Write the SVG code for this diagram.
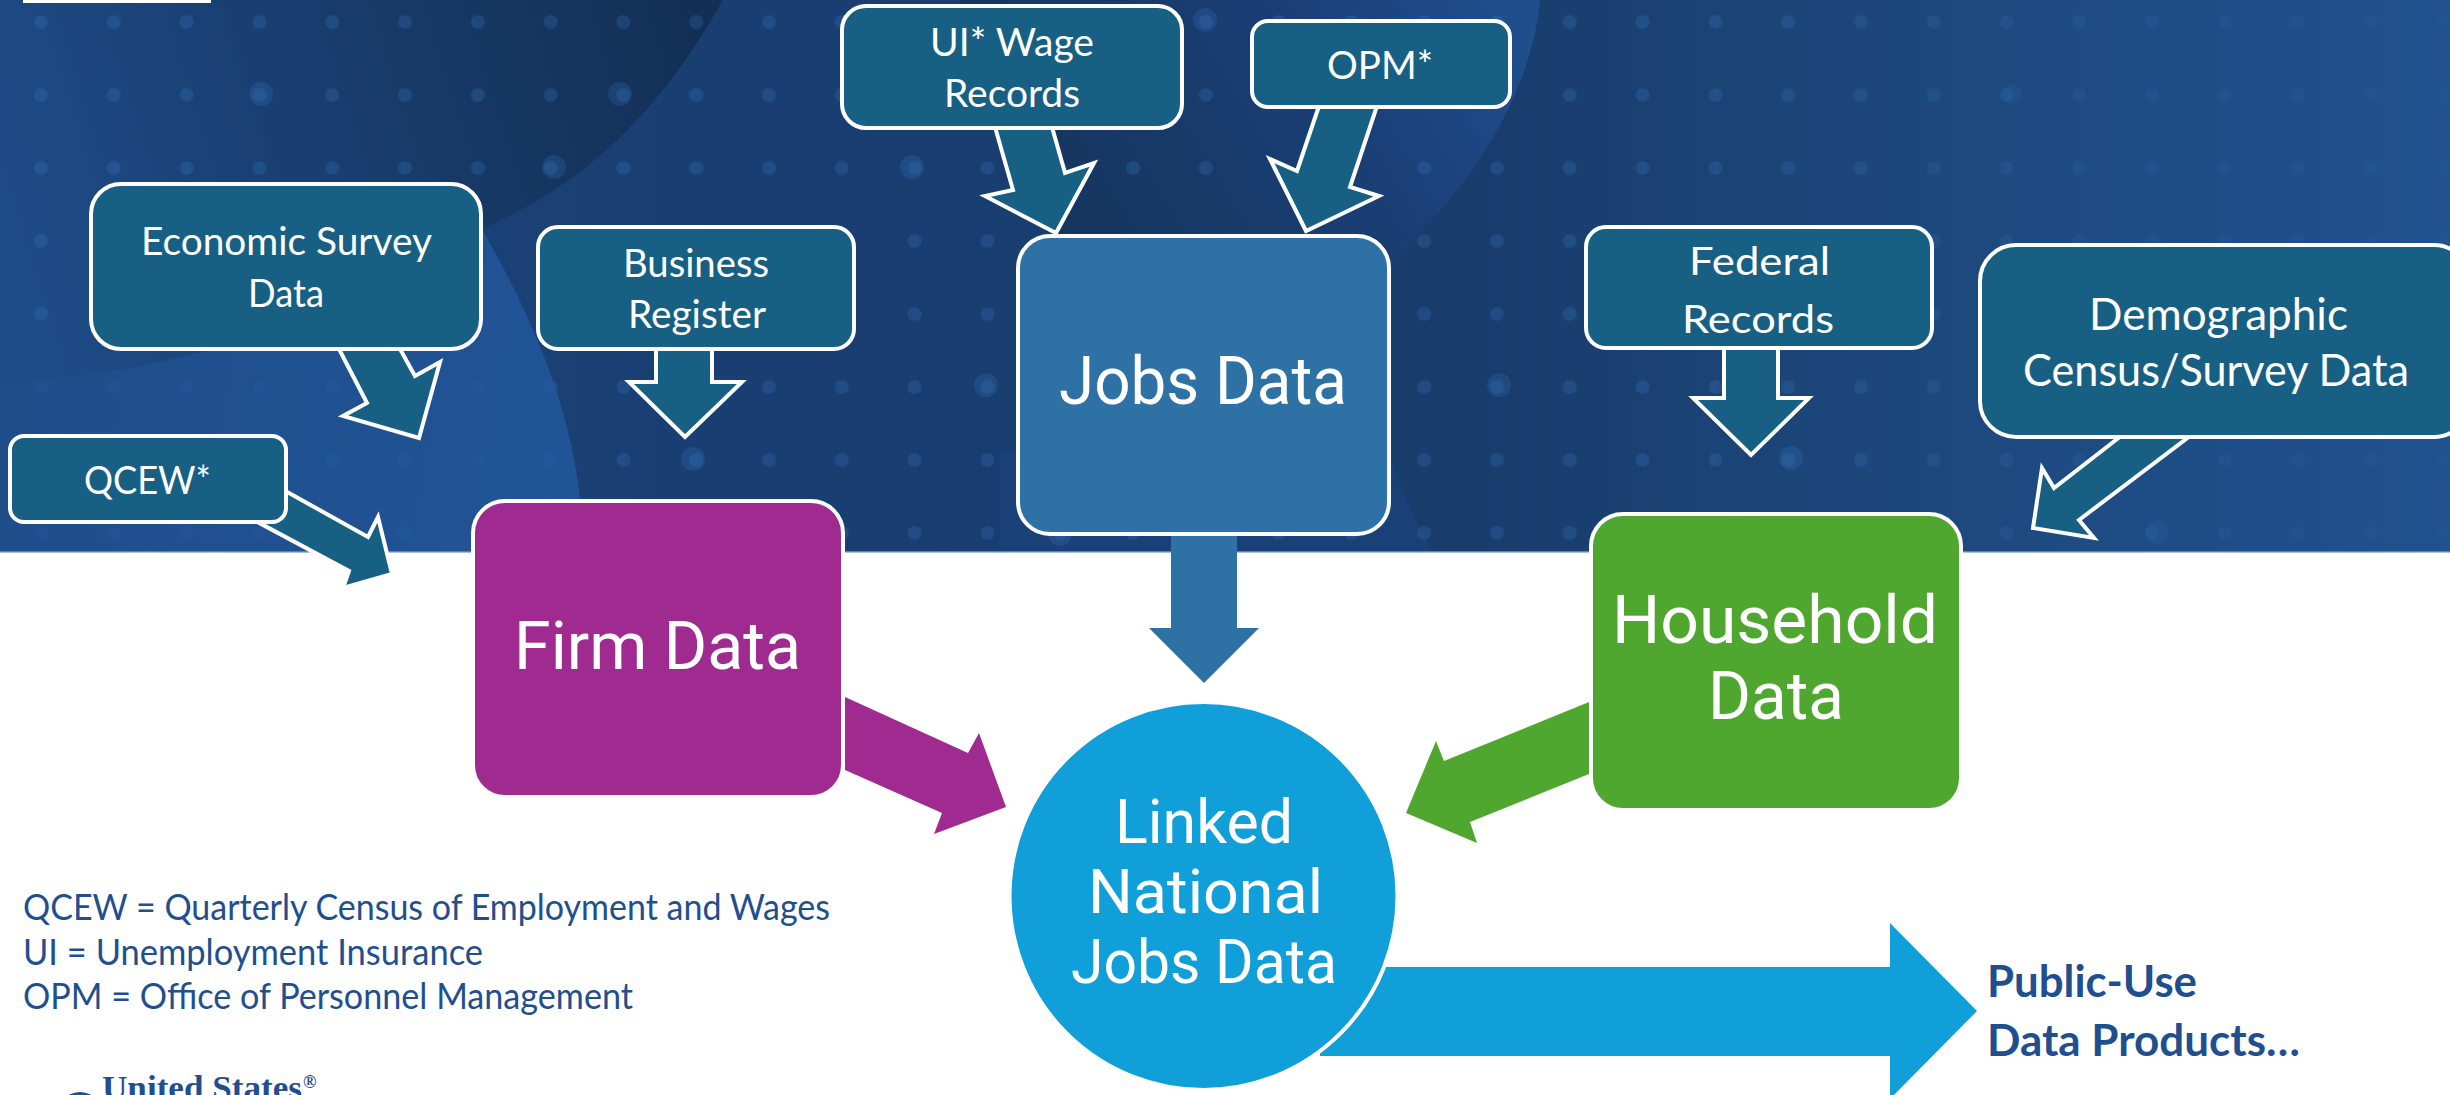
<svg xmlns="http://www.w3.org/2000/svg" width="2450" height="1095" viewBox="0 0 2450 1095">
<style>
.src{fill:#176083;stroke:#fff;stroke-width:4}
.arr{fill:#176083;stroke:#fff;stroke-width:4;stroke-linejoin:miter}
.main{stroke:#fff;stroke-width:4}
text{font-family:"Lato","Open Sans","Liberation Sans",sans-serif;fill:#fff}
.s{font-size:39px}
.d{font-size:44px}
.b{font-size:67px;font-family:Roboto,"Open Sans",sans-serif}
.c{font-size:62px;font-family:Roboto,"Open Sans",sans-serif}
.leg{font-size:36px;fill:#1f4f8f}
.pub{font-size:44px;font-weight:700;fill:#1f4f8f}
</style>
<defs>
<linearGradient id="base" gradientUnits="userSpaceOnUse" x1="0" y1="0" x2="2450" y2="0">
<stop offset="0" stop-color="#1b4479"/><stop offset=".3" stop-color="#193e72"/><stop offset=".6" stop-color="#183c6c"/><stop offset=".75" stop-color="#1c4679"/><stop offset="1" stop-color="#20528f"/>
</linearGradient>
<linearGradient id="dark" gradientUnits="userSpaceOnUse" x1="700" y1="40" x2="0" y2="260">
<stop offset="0" stop-color="#132f55"/><stop offset=".55" stop-color="#193e70"/><stop offset="1" stop-color="#1e4c88"/>
</linearGradient>
<linearGradient id="blob" gradientUnits="userSpaceOnUse" x1="0" y1="380" x2="580" y2="480">
<stop offset="0" stop-color="#1e4d8a"/><stop offset="1" stop-color="#215497"/>
</linearGradient>
<linearGradient id="lobe" gradientUnits="userSpaceOnUse" x1="1100" y1="240" x2="1500" y2="0">
<stop offset="0" stop-color="#163660"/><stop offset=".6" stop-color="#1a3f76"/><stop offset="1" stop-color="#1f4e8d"/>
</linearGradient>
<linearGradient id="fade" gradientUnits="userSpaceOnUse" x1="1700" y1="0" x2="2450" y2="0">
<stop offset="0" stop-color="#fff"/><stop offset="1" stop-color="#333"/>
</linearGradient>
<pattern id="dots" patternUnits="userSpaceOnUse" x="4.6" y="-14.5" width="72.8" height="73">
<circle cx="36.4" cy="36.5" r="7" fill="#3d7cc8" fill-opacity=".25"/>
</pattern>
<mask id="dotmask" maskUnits="userSpaceOnUse" x="0" y="0" width="2450" height="552">
<rect width="2450" height="552" fill="url(#fade)"/>
<path d="M0 381C100 380 220 365 330 320C400 290 450 265 482 229C545 340 583 440 583 552H0Z" fill="#555"/>
</mask>
</defs>
<g id="background">
<rect width="2450" height="552" fill="url(#base)"/>
<path d="M0 0H723C650 130 570 190 482 229C400 285 220 375 0 381Z" fill="url(#dark)"/>
<path d="M0 381C220 375 400 285 482 229C545 340 583 440 583 552H0Z" fill="url(#blob)"/>
<path d="M960 0H1540C1530 110 1450 210 1389 262L1389 236H1060C1030 200 1010 160 995 125C985 90 975 50 960 0Z" fill="url(#lobe)"/>
<path d="M1389 450C1400 490 1415 520 1432 552H1000V450Z" fill="#1a4177"/>
<rect width="2450" height="552" fill="url(#dots)" mask="url(#dotmask)"/>
<g fill="#3d7cc8" fill-opacity=".22">
<circle cx="261" cy="94" r="12"/><circle cx="620" cy="94" r="12"/><circle cx="554" cy="167" r="12"/><circle cx="693" cy="459" r="12"/>
<circle cx="912" cy="167" r="12"/><circle cx="986" cy="385" r="12"/><circle cx="1499" cy="385" r="12"/><circle cx="1060" cy="534" r="12"/>
<circle cx="1205" cy="20" r="12"/><circle cx="1791" cy="458" r="12"/><circle cx="2157" cy="532" r="12" fill-opacity=".12"/><circle cx="2012" cy="94" r="10" fill-opacity=".12"/>
</g>
<rect x="0" y="551" width="2450" height="1.5" fill="#5d82b3"/>
<rect x="23" y="-10" width="188" height="13" fill="#fff"/>
</g>
<g id="connectors">
<polygon class="arr" points="339,349 367,403 343,416 419,438 440,362 415,376 400,349"/>
<polygon class="arr" points="656,349 656,382 629,382 685,437 742,382 712,382 712,349"/>
<polygon class="arr" points="280,488 368,537 378,517 392,574 343,588 349,571 250,518"/>
<polygon class="arr" points="995,127 1013,190 985,196 1056,233 1094,163 1065,173 1052,127"/>
<polygon class="arr" points="1319,106 1297,171 1270,159 1306,231 1379,196 1350,187 1377,106"/>
<polygon class="arr" points="1724,347 1724,398 1693,398 1751,455 1809,398 1778,398 1778,347"/>
<polygon class="arr" points="2121,436 2054,488 2042,468 2033,528 2094,538 2079,520 2190,436"/>
<polygon fill="#2e71a5" points="1171,534 1171,628 1149,628 1204,683 1259,628 1237,628 1237,534"/>
<polygon fill="#a02b90" points="845,697 968,753 979,733 1006,807 934,834 942,813 845,770"/>
<polygon fill="#50a72f" points="1589,702 1444,761 1436,741 1406,813 1477,843 1470,822 1589,774"/>
<polygon fill="#109fd8" points="1320,967 1890,967 1890,923 1977,1011 1890,1099 1890,1056 1320,1056"/>
</g>
<g id="economic-survey"><rect class="src" x="91" y="184" width="390" height="165" rx="30"/>
<text class="s" x="141" y="255" textLength="291" lengthAdjust="spacingAndGlyphs">Economic Survey</text>
<text class="s" x="248" y="307" textLength="76" lengthAdjust="spacingAndGlyphs">Data</text></g>
<g id="business-register"><rect class="src" x="538" y="227" width="316" height="122" rx="20"/>
<text class="s" x="623" y="277" textLength="146" lengthAdjust="spacingAndGlyphs">Business</text>
<text class="s" x="628" y="328" textLength="138" lengthAdjust="spacingAndGlyphs">Register</text></g>
<g id="qcew"><rect class="src" x="10" y="436" width="276" height="86" rx="14"/>
<text class="s" x="84" y="494" textLength="127" lengthAdjust="spacingAndGlyphs">QCEW*</text></g>
<g id="ui-wage"><rect class="src" x="842" y="6" width="340" height="122" rx="24"/>
<text class="s" x="930" y="56" textLength="164" lengthAdjust="spacingAndGlyphs">UI* Wage</text>
<text class="s" x="944" y="107" textLength="136" lengthAdjust="spacingAndGlyphs">Records</text></g>
<g id="opm"><rect class="src" x="1252" y="21" width="258" height="86" rx="16"/>
<text class="s" x="1327" y="79" textLength="106" lengthAdjust="spacingAndGlyphs">OPM*</text></g>
<g id="federal-records"><rect class="src" x="1586" y="227" width="346" height="121" rx="20"/>
<text class="s" x="1689" y="275" textLength="141" lengthAdjust="spacingAndGlyphs">Federal</text>
<text class="s" x="1682" y="333" textLength="152" lengthAdjust="spacingAndGlyphs">Records</text></g>
<g id="demographic"><rect class="src" x="1980" y="245" width="490" height="192" rx="36"/>
<text class="d" x="2089" y="330" textLength="259" lengthAdjust="spacingAndGlyphs">Demographic</text>
<text class="d" x="2023" y="386" textLength="386" lengthAdjust="spacingAndGlyphs">Census/Survey Data</text></g>
<g id="firm-data"><rect class="main" x="473" y="501" width="370" height="296" rx="32" fill="#a02b90"/>
<text class="b" x="514" y="669" textLength="287" lengthAdjust="spacingAndGlyphs">Firm Data</text></g>
<g id="jobs-data"><rect class="main" x="1018" y="236" width="371" height="298" rx="32" fill="#2e71a5"/>
<text class="b" x="1059" y="404" textLength="288" lengthAdjust="spacingAndGlyphs">Jobs Data</text></g>
<g id="household-data"><rect class="main" x="1591" y="514" width="370" height="296" rx="32" fill="#50a72f"/>
<text class="b" x="1612" y="643" textLength="326" lengthAdjust="spacingAndGlyphs">Household</text>
<text class="b" x="1708" y="719" textLength="136" lengthAdjust="spacingAndGlyphs">Data</text></g>
<g id="linked-national"><circle class="main" cx="1203.5" cy="896" r="194" fill="#109fd8"/>
<text class="c" x="1115" y="843" textLength="178" lengthAdjust="spacingAndGlyphs">Linked</text>
<text class="c" x="1088" y="913" textLength="235" lengthAdjust="spacingAndGlyphs">National</text>
<text class="c" x="1071" y="983" textLength="266" lengthAdjust="spacingAndGlyphs">Jobs Data</text></g>
<g id="public-use">
<text class="pub" x="1987" y="997" textLength="210" lengthAdjust="spacingAndGlyphs">Public-Use</text>
<text class="pub" x="1987" y="1056" textLength="313" lengthAdjust="spacingAndGlyphs">Data Products…</text></g>
<g id="legend">
<text class="leg" x="23" y="920" textLength="807" lengthAdjust="spacingAndGlyphs">QCEW = Quarterly Census of Employment and Wages</text>
<text class="leg" x="23" y="965" textLength="460" lengthAdjust="spacingAndGlyphs">UI = Unemployment Insurance</text>
<text class="leg" x="23" y="1009" textLength="610" lengthAdjust="spacingAndGlyphs">OPM = Office of Personnel Management</text>
</g>
<g id="logo">
<circle cx="80" cy="1114" r="22" fill="#1f4f8f"/>
<text x="102" y="1099" font-size="34" font-weight="700" style="font-family:'Liberation Serif',serif;fill:#1f4f8f" textLength="200" lengthAdjust="spacingAndGlyphs">United States</text>
<text x="303" y="1088" font-size="18" font-weight="700" style="font-family:'Liberation Serif',serif;fill:#1f4f8f">®</text>
</g>
</svg>
